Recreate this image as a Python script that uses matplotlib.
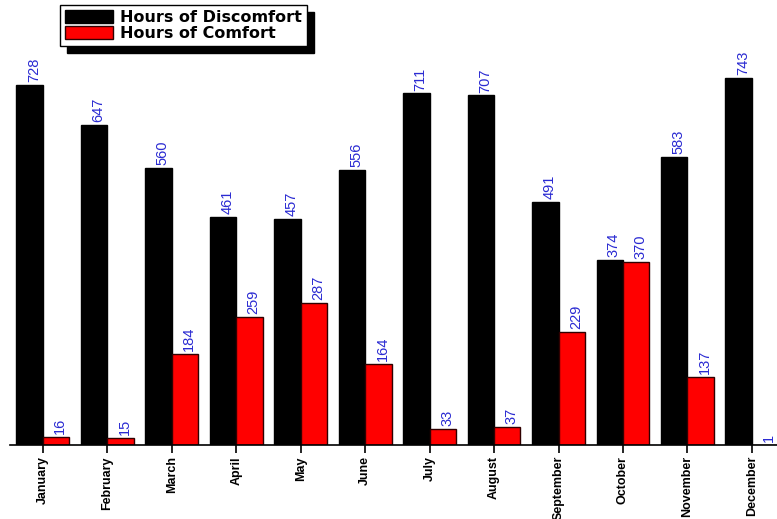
import numpy as np
import matplotlib.pyplot as plt
from matplotlib.patches import Patch

months = ['January', 'February', 'March', 'April', 'May', 'June', 'July',
          'August', 'September', 'October', 'November', 'December']
discomfort = [728, 647, 560, 461, 457, 556, 711, 707, 491, 374, 583, 743]
comfort = [16, 15, 184, 259, 287, 164, 33, 37, 229, 370, 137, 1]

label_blue = '#2a2ad2'

fig = plt.figure(figsize=(7.77, 5.19), dpi=100)
ax = fig.add_axes([10/777, 74/519, 1 - 10/777, 445/519])

x = np.arange(len(months))
w = 0.41
b1 = ax.bar(x - w/2, discomfort, w, color='black', edgecolor='black', linewidth=1)
b2 = ax.bar(x + w/2, comfort, w, color='#ff0000', edgecolor='#300000', linewidth=1)

# value labels above each bar
for bars, vals in ((b1, discomfort), (b2, comfort)):
    for rect, v in zip(bars, vals):
        ax.annotate(str(v), (rect.get_x() + rect.get_width()/2, rect.get_height()),
                    xytext=(3, 2), textcoords='offset points', rotation=90,
                    ha='center', va='bottom', color=label_blue,
                    fontsize=10.5, family='Liberation Sans')

ax.set_xlim(-0.51, 11.39)
ax.set_ylim(0, 900)
for s in ('left', 'top', 'right'):
    ax.spines[s].set_visible(False)
ax.spines['bottom'].set_linewidth(1.2)
ax.set_yticks([])
ax.set_xticks(x)
ax.set_xticklabels(months, rotation=90, fontsize=9, fontweight='bold',
                   family='Liberation Sans')
ax.tick_params(axis='x', length=6, width=1.2, pad=2)

handles = [Patch(facecolor='black', edgecolor='black'),
           Patch(facecolor='#ff0000', edgecolor='#300000')]
leg = fig.legend(handles, ['Hours of Discomfort', 'Hours of Comfort'],
                 loc='upper left', bbox_to_anchor=(60/777, 1 - 5/519),
                 borderaxespad=0, fancybox=False, edgecolor='black',
                 shadow={'color': 'black', 'alpha': 1, 'ox': 5, 'oy': -5},
                 handlelength=3.0, handleheight=0.85, labelspacing=0.1,
                 handletextpad=0.45, borderpad=0.3, framealpha=1,
                 prop={'weight': 'bold', 'size': 11.5, 'family': 'DejaVu Sans'})
leg.get_frame().set_linewidth(1)

fig.savefig('out.png', dpi=100)
